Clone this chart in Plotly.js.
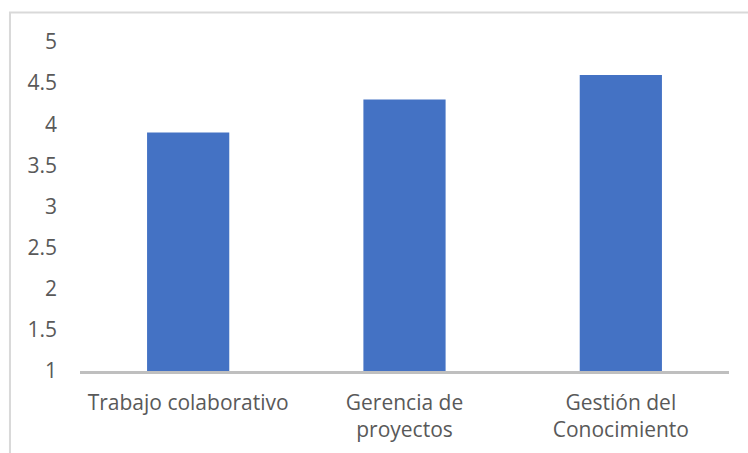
<!DOCTYPE html>
<html>
<head>
<meta charset="utf-8">
<script src="https://cdn.plot.ly/plotly-3.0.1.min.js"></script>
<style>
  html, body { margin: 0; padding: 0; background: #ffffff; }
  #chart { width: 748px; height: 453px; }
</style>
</head>
<body>
<div id="chart"></div>
<script>
const categories = ["Trabajo colaborativo", "Gerencia de<br>proyectos", "Gestión del<br>Conocimiento"];
const values = [3.9, 4.3, 4.6];
const yTickValues = [1, 1.5, 2, 2.5, 3, 3.5, 4, 4.5, 5];
const yTickLabels = ["1", "1.5", "2", "2.5", "3", "3.5", "4", "4.5", "5"];

const trace = {
  type: "bar",
  x: categories,
  y: values,
  marker: { color: "#4472C4" },
  hovertemplate: "%{x}: %{y}<extra></extra>"
};

const layout = {
  width: 748,
  height: 453,
  margin: { l: 80, r: 19, t: 41.5, b: 82 },
  paper_bgcolor: "#ffffff",
  plot_bgcolor: "#ffffff",
  bargap: 0.62,
  showlegend: false,
  font: { family: "Open Sans, sans-serif", size: 21, color: "#595959" },
  xaxis: {
    type: "category",
    showgrid: false,
    zeroline: false,
    showline: true,
    linecolor: "#BFBFBF",
    linewidth: 2.5,
    ticks: "",
    tickfont: { size: 21, color: "#595959" },
    ticklabelstandoff: 11
  },
  yaxis: {
    range: [1, 5],
    tickvals: yTickValues,
    ticktext: yTickLabels,
    showgrid: false,
    zeroline: false,
    showline: false,
    ticks: "",
    tickfont: { size: 21, color: "#595959" },
    ticklabelstandoff: 22
  },
  shapes: [
    {
      type: "rect",
      xref: "paper", yref: "paper",
      x0: -0.1079, x1: 1.05,
      y0: -0.4, y1: 1.0895,
      line: { color: "#D9D9D9", width: 2 },
      fillcolor: "rgba(0,0,0,0)",
      layer: "below"
    }
  ]
};

Plotly.newPlot("chart", [trace], layout, { displayModeBar: false, staticPlot: true });
</script>
</body>
</html>
